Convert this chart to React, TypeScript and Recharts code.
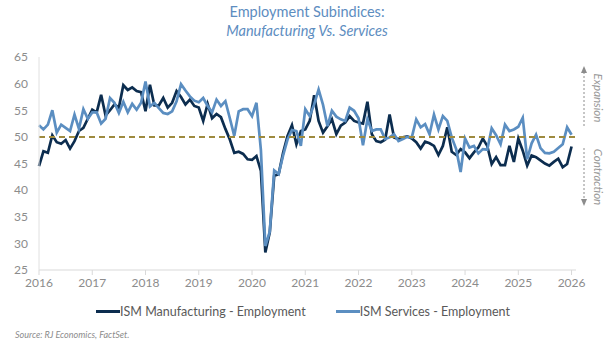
import React from "react";
import { LineChart, Line, XAxis, YAxis, ReferenceLine } from "recharts";

// monthly readings, Jan 2016 .. Jan 2026
const mfgEmployment = [
  44.5, 47.3, 47.0, 50.3, 49.0, 48.7, 49.4, 47.8, 49.2, 51.1, 51.7, 53.4,
  55.1, 54.6, 57.9, 54.0, 55.0, 56.1, 55.5, 59.7, 58.8, 59.3, 58.6, 58.4,
  54.8, 59.8, 55.9, 55.9, 57.3, 55.5, 56.4, 58.6, 57.5, 56.1, 57.0, 55.8,
  55.5, 53.0, 56.2, 53.5, 54.3, 53.7, 51.5, 49.5, 47.0, 47.2, 46.8, 45.8,
  45.7, 46.4, 43.6, 28.3, 32.1, 42.7, 43.0, 47.0, 50.2, 52.2, 48.6, 51.1,
  51.4, 53.0, 57.8, 53.0, 50.8, 52.0, 53.3, 50.5, 52.1, 52.7, 53.9, 53.0,
  52.7, 52.5, 56.6, 50.5, 49.2, 49.0, 49.5, 54.2, 49.9, 49.6, 49.9, 50.1,
  49.7, 49.0, 47.8, 49.1, 48.8, 48.3, 46.6, 48.3, 51.8, 47.2, 46.6, 47.7,
  47.1, 46.0, 47.1, 48.0, 49.7, 48.3, 44.9, 46.2, 44.7, 44.7, 48.3, 45.3,
  49.7, 47.4, 44.6, 46.5, 46.2, 45.6, 45.0, 44.6, 45.3, 45.9, 44.3, 44.9,
  48.2,
];

const svcEmployment = [
  52.2, 51.4, 52.3, 55.0, 50.8, 52.3, 51.7, 51.1, 54.2, 51.5, 55.2, 53.4,
  54.6, 54.6, 52.5, 53.4, 57.3, 56.4, 54.5, 56.6, 54.6, 56.2, 55.1, 56.4,
  60.4, 55.7, 56.4, 55.4, 54.5, 54.3, 54.8, 56.7, 59.9, 58.7, 57.6, 56.8,
  56.5, 57.3, 55.8, 54.6, 57.0, 55.8, 56.7, 53.5, 50.2, 54.8, 55.2, 55.2,
  53.9, 56.4, 47.5, 29.5, 32.2, 43.7, 43.0, 46.5, 49.5, 51.3, 51.1, 48.3,
  55.2, 53.9, 56.1, 58.9, 56.0, 52.0, 54.9, 53.8, 53.3, 53.0, 55.5, 54.9,
  53.5, 48.4, 53.3, 51.1, 51.4, 51.4, 49.6, 49.9, 50.5, 49.2, 49.6, 50.0,
  49.9, 53.3, 51.8, 52.4, 50.5, 54.2, 51.4, 53.9, 53.0, 49.9, 47.7, 43.4,
  49.7, 48.0, 48.3, 46.9, 47.7, 47.6, 51.6, 50.3, 48.6, 52.3, 51.1, 51.4,
  51.9, 53.6, 45.8, 48.8, 50.4, 47.9, 47.0, 46.9, 47.2, 47.9, 48.6, 51.8,
  50.4,
];

const years = [2016, 2017, 2018, 2019, 2020, 2021, 2022, 2023, 2024, 2025, 2026];
const yTicks = [25, 30, 35, 40, 45, 50, 55, 60, 65];

const data = mfgEmployment.map((v, i) => ({ m: i, mfg: v, svc: svcEmployment[i] }));

const DARK = "#0c2d4f";
const LIGHT = "#5b8ec1";
const FONT = "Lato, 'Open Sans', sans-serif";

export default function App() {
  return (
    <div style={{ position: "absolute", left: 0, top: 0, width: 614, height: 347, background: "#fff", fontFamily: FONT }}>
      <div style={{ position: "absolute", top: 2, width: 614, textAlign: "center", color: "#5d8dbf", fontSize: 14.5, lineHeight: "19px" }}>
        <div>Employment Subindices:</div>
        <div style={{ fontStyle: "italic" }}>Manufacturing Vs. Services</div>
      </div>

      <LineChart width={614} height={347} data={data} margin={{ top: 57, right: 38, bottom: 47, left: 0 }}>
        <XAxis
          dataKey="m"
          type="number"
          domain={[0, 121]}
          ticks={years.map((y) => (y - 2016) * 12)}
          tickFormatter={(v) => String(2016 + v / 12)}
          height={30}
          stroke="#d9d9d9"
          tickSize={5}
          tickMargin={3}
          tick={{ fill: "#8c8c8c", fontSize: 12, fontFamily: FONT }}
        />
        <YAxis
          domain={[25, 65]}
          ticks={yTicks}
          width={39}
          stroke="#e0e0e0"
          tickLine={false}
          tickSize={0}
          tickMargin={11}
          tick={{ fill: "#8c8c8c", fontSize: 12, fontFamily: FONT }}
        />
        <Line dataKey="mfg" stroke={DARK} strokeWidth={2.7} dot={false} isAnimationActive={false} />
        <Line dataKey="svc" stroke={LIGHT} strokeWidth={2.7} dot={false} isAnimationActive={false} />
        <ReferenceLine y={50} stroke="#9e8a3e" strokeWidth={2} strokeDasharray="6 4" />
      </LineChart>

      <svg width={614} height={347} style={{ position: "absolute", left: 0, top: 0, pointerEvents: "none" }}>
        <line x1={584} y1={72} x2={584} y2={127} stroke="#8c8c8c" strokeDasharray="2 2" />
        <polygon points="581,73 587,73 584,66" fill="#8c8c8c" />
        <text x={594} y={98} fill="#999" fontSize={11.5} fontStyle="italic" fontFamily={FONT} textAnchor="middle" transform="rotate(90 594 98)">
          Expansion
        </text>
        <line x1={584} y1={148} x2={584} y2={200} stroke="#8c8c8c" strokeDasharray="2 2" />
        <polygon points="581,199 587,199 584,206" fill="#8c8c8c" />
        <text x={594} y={177} fill="#999" fontSize={11.5} fontStyle="italic" fontFamily={FONT} textAnchor="middle" transform="rotate(90 594 177)">
          Contraction
        </text>
      </svg>

      <div style={{ position: "absolute", top: 304, left: 0, width: 606, display: "flex", justifyContent: "center", gap: 30, fontSize: 12.5, color: "#595959" }}>
        <div style={{ display: "flex", alignItems: "center" }}>
          <span style={{ display: "inline-block", width: 24, height: 3, background: DARK }} />
          <span>ISM Manufacturing - Employment</span>
        </div>
        <div style={{ display: "flex", alignItems: "center" }}>
          <span style={{ display: "inline-block", width: 24, height: 3, background: LIGHT }} />
          <span>ISM Services - Employment</span>
        </div>
      </div>

      <div style={{ position: "absolute", top: 329, left: 15, fontSize: 9, fontStyle: "italic", color: "#8c8c8c" }}>
        Source: RJ Economics, FactSet.
      </div>
    </div>
  );
}
